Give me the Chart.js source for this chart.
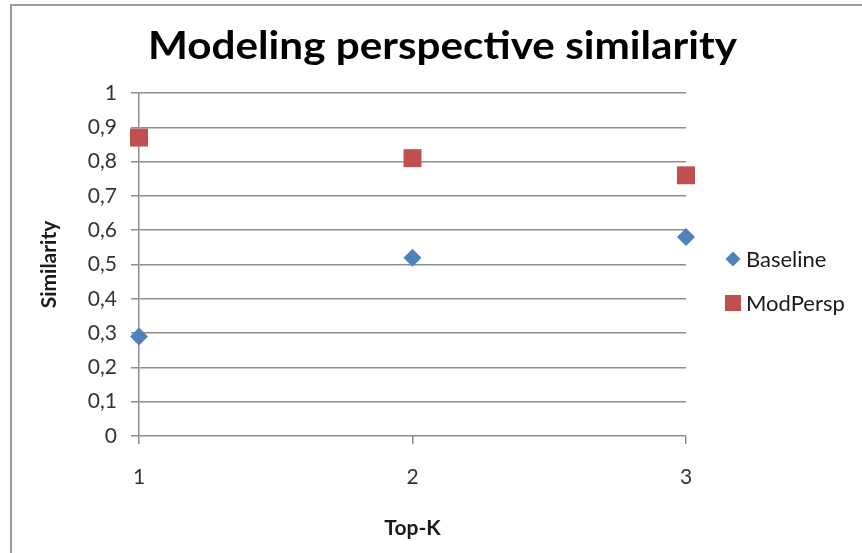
<!DOCTYPE html>
<html>
<head>
<meta charset="utf-8">
<script src="https://cdn.jsdelivr.net/npm/chart.js@4"></script>
<style>
  html, body { margin: 0; padding: 0; background: #fff; }
  #wrap { width: 862px; height: 553px; position: relative; }
</style>
</head>
<body>
<div id="wrap"><canvas id="c" width="862" height="553"></canvas></div>
<script>
// Chart text
const chartTitle = 'Modeling perspective similarity';
const xAxisTitle = 'Top-K';
const yAxisTitle = 'Similarity';

// Data
const topK = [1, 2, 3];
const baseline = [0.29, 0.52, 0.58];
const modPersp = [0.87, 0.81, 0.76];
const seriesNames = ['Baseline', 'ModPersp'];

// Tick labels
const xTickLabels = ['1', '2', '3'];
const yTickLabels = ['0', '0,1', '0,2', '0,3', '0,4', '0,5', '0,6', '0,7', '0,8', '0,9', '1'];

const FONT = 'Lato, "Open Sans", sans-serif';
const GRID = '#8e8e8e';
const BLUE = '#4f81bd';
const RED = '#c0504d';

const toPoints = (xs, ys) => xs.map((x, i) => ({ x: x, y: ys[i] }));

// Frame, title and legend drawn around the plot
const decorations = {
  id: 'decorations',
  beforeDraw(chart) {
    const ctx = chart.ctx;
    ctx.save();
    ctx.fillStyle = '#ffffff';
    ctx.fillRect(0, 0, chart.width, chart.height);
    ctx.strokeStyle = '#9a9a9a';
    ctx.lineWidth = 2;
    ctx.strokeRect(11, 5, chart.width + 20, chart.height + 20);
    ctx.restore();
  },
  afterDraw(chart) {
    const ctx = chart.ctx;
    ctx.save();
    // title, fitted to its block width
    ctx.fillStyle = '#000000';
    ctx.font = 'bold 39px ' + FONT;
    ctx.textAlign = 'center';
    ctx.textBaseline = 'alphabetic';
    const w = ctx.measureText(chartTitle).width;
    const sx = 589 / w;
    ctx.translate(442.5, 59);
    ctx.scale(sx, 1);
    ctx.fillText(chartTitle, 0, 0);
    ctx.setTransform(1, 0, 0, 1, 0, 0);

    // legend
    ctx.font = '22px ' + FONT;
    ctx.textAlign = 'left';
    ctx.textBaseline = 'middle';
    chart.data.datasets.forEach((ds, i) => {
      const y = 259 + i * 44;
      const x = 733;
      ctx.fillStyle = ds.backgroundColor;
      ctx.beginPath();
      if (ds.pointStyle === 'rectRot') {
        const r = 7.5;
        ctx.moveTo(x, y - r);
        ctx.lineTo(x + r, y);
        ctx.lineTo(x, y + r);
        ctx.lineTo(x - r, y);
        ctx.closePath();
      } else {
        ctx.rect(x - 8, y - 8, 16, 16);
      }
      ctx.fill();
      ctx.fillStyle = '#1a1a1a';
      ctx.fillText(ds.label, 746, y + 1);
    });
    ctx.restore();
  }
};

new Chart(document.getElementById('c'), {
  type: 'scatter',
  data: {
    datasets: [
      {
        label: seriesNames[0],
        data: toPoints(topK, baseline),
        pointStyle: 'rectRot',
        pointRadius: 9,
        pointHoverRadius: 9,
        backgroundColor: BLUE,
        borderColor: BLUE,
        borderWidth: 0,
        clip: false
      },
      {
        label: seriesNames[1],
        data: toPoints(topK, modPersp),
        pointStyle: 'rect',
        pointRadius: 12.7,
        pointHoverRadius: 12.7,
        backgroundColor: RED,
        borderColor: RED,
        borderWidth: 0,
        clip: false
      }
    ]
  },
  options: {
    responsive: false,
    animation: false,
    devicePixelRatio: 1,
    layout: { padding: { top: 93, left: 0, right: 176, bottom: 0 } },
    plugins: {
      legend: { display: false },
      title: { display: false },
      tooltip: { enabled: false }
    },
    scales: {
      x: {
        type: 'linear',
        min: 1,
        max: 3,
        afterFit(scale) { scale.height = 117; },
        afterBuildTicks(scale) { scale.ticks = topK.map(v => ({ value: v })); },
        grid: { drawOnChartArea: false, color: GRID, lineWidth: 1.5, tickLength: 8 },
        border: { display: false },
        ticks: {
          padding: 21,
          color: '#333333',
          font: { family: FONT, size: 21 },
          callback: (v, i) => xTickLabels[i]
        },
        title: {
          display: true,
          text: xAxisTitle,
          color: '#1a1a1a',
          font: { family: FONT, size: 21, weight: 'bold' },
          padding: { top: 0, bottom: 12 }
        }
      },
      y: {
        type: 'linear',
        min: 0,
        max: 1,
        afterFit(scale) { scale.width = 139; },
        ticks: {
          stepSize: 0.1,
          padding: 14,
          color: '#333333',
          font: { family: FONT, size: 21 },
          callback: (v, i) => yTickLabels[i]
        },
        grid: { color: GRID, lineWidth: 1.5, tickLength: 8 },
        border: { display: true, color: GRID, width: 1.5 },
        title: {
          display: true,
          text: yAxisTitle,
          color: '#1a1a1a',
          font: { family: FONT, size: 21, weight: 'bold' },
          padding: { top: 37, bottom: 0 }
        }
      }
    }
  },
  plugins: [decorations]
});
</script>
</body>
</html>
